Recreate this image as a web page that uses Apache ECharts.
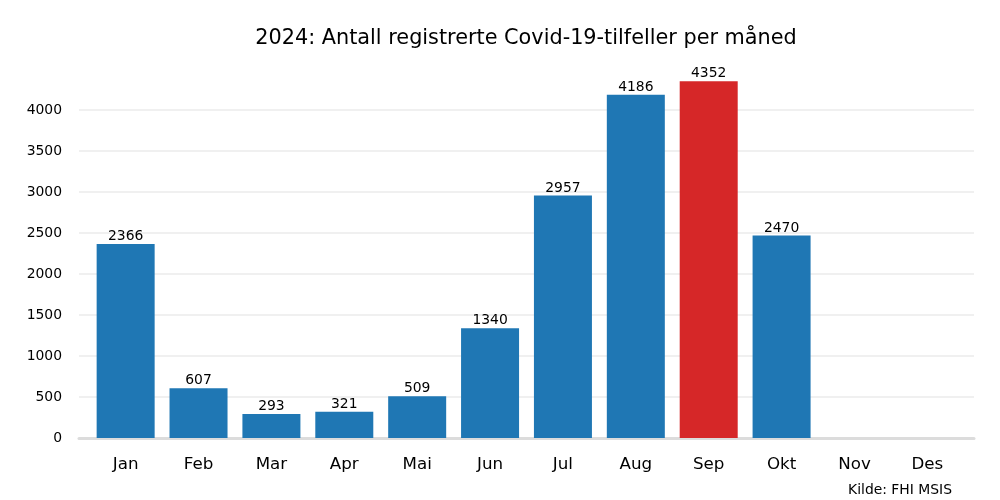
<!DOCTYPE html>
<html><head><meta charset="utf-8">
<script src="https://cdn.jsdelivr.net/npm/echarts@6/dist/echarts.min.js"></script>
<style>html,body{margin:0;padding:0;background:#fff}#c{width:1000px;height:500px}</style>
</head><body><div id="c"></div>
<script>
const months = ['Jan','Feb','Mar','Apr','Mai','Jun','Jul','Aug','Sep','Okt','Nov','Des'];
const cases = [2366, 607, 293, 321, 509, 1340, 2957, 4186, 4352, 2470, null, null];
const highlightMonth = 'Sep';
const yTicks = [0,500,1000,1500,2000,2500,3000,3500,4000];

const chart = echarts.init(document.getElementById('c'), null, {renderer:'canvas'});
const font = 'DejaVu Sans';
chart.setOption({
  animation: false,
  textStyle: {fontFamily: font},
  graphic: [{
    type: 'text', x: 526, y: 39,
    style: {text: '2024: Antall registrerte Covid-19-tilfeller per måned', font: '20.8px "DejaVu Sans"', fill: '#000',
      align: 'center', verticalAlign: 'middle'}
  }, {
    type: 'text', right: 48, top: 483,
    style: {text: 'Kilde: FHI MSIS', font: '13.9px "DejaVu Sans"', fill: '#000'}
  }],
  grid: {left: 79, right: 26, top: 70.5, bottom: 62},
  xAxis: {
    type: 'value', min: -0.64, max: 11.64,
    axisLine: {show: true, onZero: false, lineStyle: {color: '#dcdcdc', width: 3}},
    axisTick: {show: false},
    splitLine: {show: false},
    axisLabel: {
      customValues: months.map((m, i) => i),
      formatter: v => months[Math.round(v)],
      fontSize: 16.7, color: '#000', margin: 18, fontFamily: font
    }
  },
  yAxis: {
    type: 'value', min: 0, max: 4482, interval: 500,
    axisLine: {show: false}, axisTick: {show: false},
    splitLine: {showMaxLine: false, showMinLine: false, lineStyle: {color: '#ebebeb', width: 1.5}},
    axisLabel: {
      customValues: yTicks,
      formatter: v => String(v),
      fontSize: 13.9, color: '#000', margin: 17, fontFamily: font
    }
  },
  series: [{
    type: 'bar', barWidth: 58,
    data: cases.map((v, i) => ({
      value: [i, v],
      itemStyle: {color: months[i] === highlightMonth ? '#d62728' : '#1f77b4'}
    })).filter(d => d.value[1] != null),
    label: {show: true, position: 'top', distance: 0.5, fontSize: 13.9, color: '#000', fontFamily: font,
      formatter: p => p.value[1]}
  }]
});
</script></body></html>
